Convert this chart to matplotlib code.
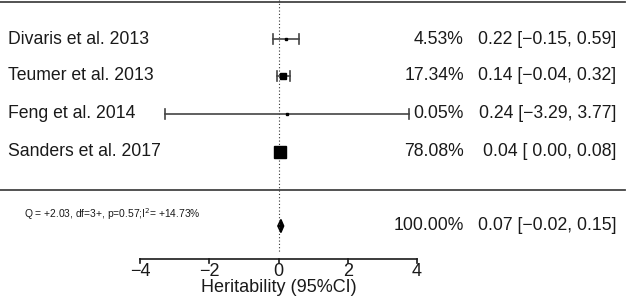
import matplotlib

matplotlib.use("Agg")
import matplotlib.pyplot as plt
from matplotlib.patches import Polygon

plt.rcParams["font.family"] = ["Liberation Sans", "DejaVu Sans"]

studies = ["Divaris et al. 2013", "Teumer et al. 2013", "Feng et al. 2014", "Sanders et al. 2017"]
estimates = [0.22, 0.14, 0.24, 0.04]
ci_low = [-0.15, -0.04, -3.29, 0.00]
ci_high = [0.59, 0.32, 3.77, 0.08]
weights = [4.53, 17.34, 0.05, 78.08]

pooled_est = 0.07
pooled_low = -0.02
pooled_high = 0.15
pooled_weight = 100.00
het_text = r"Q = +2.03, df=3+, p=0.57;I$^2$= +14.73%"

x_ticks = [-4, -2, 0, 2, 4]
x_title = "Heritability (95%CI)"

W, H = 628, 300
ZERO_PX = 278.5
UNIT_PX = 34.625
INK = "#1a1a1a"
LINE = "#444444"
FS = 12.7


def px(x_pixel):
    return (x_pixel - ZERO_PX) / UNIT_PX


def fmt_ci(est, lo, hi):
    def f(v, pad):
        s = f"{v:.2f}".replace("-", "\u2212")
        return " " + s if pad and v >= 0 and lo >= 0 else s
    return f"{est:.2f} [{f(lo, True)}, {f(hi, False)}]"


fig = plt.figure(figsize=(W / 100, H / 100), dpi=100)
ax = fig.add_axes([0, 0, 1, 1])
ax.set_xlim(px(0), px(W))
ax.set_ylim(H, 0)
ax.axis("off")

row_y = [39, 76, 114, 152]
pooled_y = 226
axis_y = 258.5

# frame lines
ax.plot([px(0), px(625)], [2, 2], color=LINE, linewidth=1.3)
ax.plot([px(0), px(625)], [190, 190], color=LINE, linewidth=1.3)

# reference line at zero
ax.plot([0, 0], [0, 253], color="#333333", linewidth=0.8, linestyle=(0, (1, 2)))

for name, est, lo, hi, w, y in zip(studies, estimates, ci_low, ci_high, weights, row_y):
    ax.plot([lo, hi], [y, y], color=LINE, linewidth=1.2)
    for end in (lo, hi):
        ax.plot([end, end], [y - 5, y + 5], color=LINE, linewidth=1.2)
    size_px = max(2.6, 1.36 * w ** 0.5)
    ax.plot(est, y, marker="s", color="black", markersize=size_px * 0.72, linestyle="none")
    ax.text(px(8), y, name, fontsize=FS, color=INK, ha="left", va="center")
    ax.text(px(464), y, f"{w:.2f}%", fontsize=FS, color=INK, ha="right", va="center")
    ax.text(px(616), y, fmt_ci(est, lo, hi), fontsize=FS, color=INK, ha="right", va="center")

# pooled diamond
diamond = Polygon(
    [(pooled_low, pooled_y), (pooled_est, pooled_y - 6.5), (pooled_high, pooled_y), (pooled_est, pooled_y + 6.5)],
    closed=True, facecolor="black", edgecolor="black",
)
ax.add_patch(diamond)
ax.text(px(24), 214, het_text, fontsize=7.4, color=INK, ha="left", va="center")
ax.text(px(464), pooled_y, f"{pooled_weight:.2f}%", fontsize=FS, color=INK, ha="right", va="center")
ax.text(px(616), pooled_y, fmt_ci(pooled_est, pooled_low, pooled_high), fontsize=FS, color=INK, ha="right", va="center")

# x axis
ax.plot([x_ticks[0], x_ticks[-1]], [axis_y, axis_y], color=INK, linewidth=1.2)
for t in x_ticks:
    ax.plot([t, t], [axis_y, axis_y + 4.5], color=INK, linewidth=1.2)
    ax.text(t, 271, f"{t}".replace("-", "\u2212"), fontsize=13, color=INK, ha="center", va="center")
ax.text(0, 287.5, x_title, fontsize=13, color=INK, ha="center", va="center")

fig.savefig("out.png", dpi=100, facecolor="white")
